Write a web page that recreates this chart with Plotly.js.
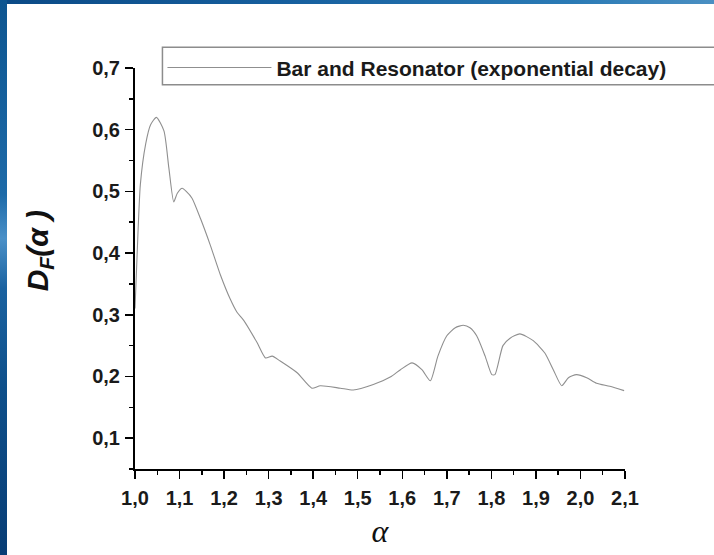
<!DOCTYPE html>
<html>
<head>
<meta charset="utf-8">
<script src="https://cdn.plot.ly/plotly-3.0.1.min.js"></script>
<style>
  html, body { margin: 0; padding: 0; width: 714px; height: 555px; overflow: hidden; }
  body { background: linear-gradient(90deg, #0b4a86 0%, #165f9e 40%, #2a7ab5 80%, #4a8fc2 100%); }
  #frame { position: absolute; left: 0; top: 0; width: 7px; height: 555px;
           background: linear-gradient(180deg, #0d5590 0%, #1d6aa8 35%, #4a90c8 43%, #1a62a0 52%, #0e4f8a 70%, #083d75 100%); }
  #chart { position: absolute; left: 7px; top: 4px; width: 707px; height: 551px; background: #ffffff; }
</style>
</head>
<body>
<div id="frame"></div>
<div id="chart"></div>
<script>
// Data
const alpha = [1.000, 1.005, 1.012, 1.024, 1.035, 1.048, 1.065, 1.076, 1.087, 1.095,
               1.106, 1.115, 1.128, 1.147, 1.169, 1.192, 1.214, 1.229, 1.244, 1.274,
               1.293, 1.308, 1.326, 1.364, 1.397, 1.416, 1.461, 1.490, 1.535, 1.573,
               1.596, 1.622, 1.644, 1.663, 1.680, 1.700, 1.719, 1.737, 1.752, 1.767,
               1.786, 1.801, 1.808, 1.826, 1.842, 1.864, 1.894, 1.920, 1.939, 1.958,
               1.973, 1.991, 2.014, 2.036, 2.066, 2.098];
const dF =    [0.310, 0.402, 0.511, 0.577, 0.608, 0.620, 0.598, 0.538, 0.483, 0.497,
               0.505, 0.500, 0.489, 0.456, 0.413, 0.364, 0.325, 0.304, 0.291, 0.255,
               0.230, 0.233, 0.225, 0.206, 0.181, 0.185, 0.181, 0.178, 0.187, 0.199,
               0.211, 0.222, 0.211, 0.193, 0.233, 0.266, 0.279, 0.283, 0.279, 0.266,
               0.233, 0.203, 0.203, 0.250, 0.262, 0.269, 0.258, 0.238, 0.211, 0.185,
               0.198, 0.203, 0.198, 0.189, 0.184, 0.177];
const seriesName = "Bar and Resonator (exponential decay)";
const xTitle = "α";
const yTitle = "<b><i>D<sub>F</sub>(α )</i></b>";

const tickFont = { family: "Liberation Sans, Arial, sans-serif", size: 20, color: "#1a1a1a", weight: "bold" };

const data = [{
  x: alpha, y: dF, type: "scatter", mode: "lines", name: seriesName,
  line: { color: "#8f8f8f", width: 1.1, shape: "spline", smoothing: 0.6 }
}];

const layout = {
  width: 707, height: 551,
  paper_bgcolor: "#ffffff", plot_bgcolor: "#ffffff",
  margin: { l: 127.5, r: 89, t: 63.5, b: 85.5 },
  separators: ", ",
  showlegend: true,
  legend: {
    x: 0.056, y: 1.0515, xanchor: "left", yanchor: "top",
    borderwidth: 0, bgcolor: "rgba(0,0,0,0)",
    font: { family: "Liberation Sans, Arial, sans-serif", size: 21, color: "#1a1a1a", weight: "bold" },
    itemwidth: 104
  },
  shapes: [{
    type: "rect", xref: "paper", yref: "paper",
    x0: 0.056, x1: 1.19, y0: 0.9585, y1: 1.0515,
    line: { color: "#8c8c8c", width: 1.5 }, fillcolor: "#ffffff", layer: "below"
  }],
  xaxis: {
    range: [1.0, 2.1], tick0: 1.0, dtick: 0.1, tickformat: ".1f",
    showgrid: false, zeroline: false, showline: true, linecolor: "#000", linewidth: 2,
    ticks: "outside", ticklen: 8, tickwidth: 1.5, tickcolor: "#000",
    tickfont: tickFont, ticklabelstandoff: 2,
    minor: { dtick: 0.05, ticks: "outside", ticklen: 4, tickwidth: 1.5, tickcolor: "#000", showgrid: false },
    title: { text: xTitle, standoff: 12,
             font: { family: "Liberation Serif, Times New Roman, serif", size: 32, color: "#111", style: "italic" } }
  },
  yaxis: {
    range: [0.05, 0.7], tick0: 0.1, dtick: 0.1, tickformat: ".1f",
    showgrid: false, zeroline: false, showline: true, linecolor: "#000", linewidth: 2,
    ticks: "outside", ticklen: 8, tickwidth: 1.5, tickcolor: "#000",
    tickfont: tickFont, ticklabelstandoff: 1,
    minor: { dtick: 0.05, ticks: "outside", ticklen: 4, tickwidth: 1.5, tickcolor: "#000", showgrid: false }
  },
  annotations: [{
    xref: "paper", yref: "paper", x: -0.195, y: 0.544,
    xanchor: "center", yanchor: "middle", textangle: -90, showarrow: false,
    text: yTitle,
    font: { family: "Liberation Sans, Arial, sans-serif", size: 30, color: "#111" }
  }]
};

Plotly.newPlot("chart", data, layout, { displayModeBar: false, staticPlot: true });
</script>
</body>
</html>
